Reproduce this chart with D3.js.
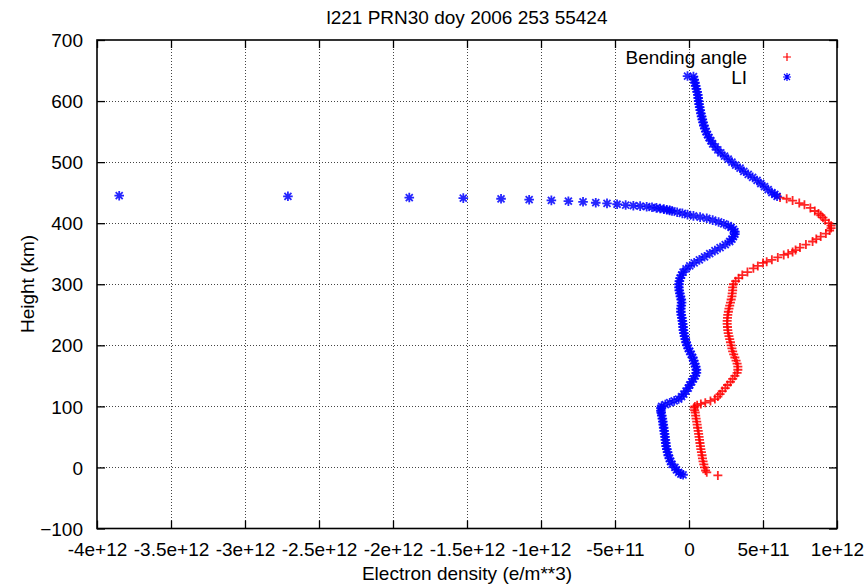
<!DOCTYPE html>
<html>
<head>
<meta charset="utf-8">
<script src="https://cdn.jsdelivr.net/npm/d3@7/dist/d3.min.js"></script>
<style>
  html, body { margin: 0; padding: 0; background: #fff; }
  svg text { font-family: "Liberation Sans", Arial, Helvetica, sans-serif; fill: #000; }
</style>
</head>
<body>
<svg id="chart" width="868" height="586"></svg>
<script>
// ---- data (density in units of 1e11 e/m^3, height in km) ----
const UNIT = 1e11;
const title = "l221 PRN30 doy 2006 253 55424";
const xLabel = "Electron density (e/m**3)";
const yLabel = "Height (km)";
const seriesNames = ["Bending angle", "LI"];
const xTickValues = [-4e12, -3.5e12, -3e12, -2.5e12, -2e12, -1.5e12, -1e12, -5e11, 0, 5e11, 1e12];
const xTickLabels = ["-4e+12", "-3.5e+12", "-3e+12", "-2.5e+12", "-2e+12", "-1.5e+12", "-1e+12", "-5e+11", "0", "5e+11", "1e+12"];
const yTickValues = [-100, 0, 100, 200, 300, 400, 500, 600, 700];

// Bending angle profile: [height, density/1e11]
const bendingProfile = [
 [442,6.15],[440,6.6],[437,7.0],[433,7.45],[430,7.8],[425,8.2],[420,8.5],[416,8.75],[413,8.9],[409,9.05],
 [405,9.2],[400,9.45],[396,9.6],[392,9.6],[388,9.5],[383,9.25],[378,8.9],[374,8.6],[370,8.35],[365,7.9],
 [360,7.5],[356,7.2],[353,7.0],[350,6.7],[348,6.4],[344,6.0],[340,5.6],[337,5.25],[335,5.0],[330,4.65],[326,4.35],
 [320,3.95],[315,3.6],[310,3.35],[305,3.15],[300,3.0],[295,2.95],[290,2.95],[285,2.92],[280,2.9],[275,2.85],
 [270,2.8],[265,2.75],[260,2.7],[255,2.66],[250,2.62],[245,2.6],[240,2.58],[235,2.58],[230,2.6],[225,2.62],
 [220,2.65],[215,2.7],[210,2.75],[205,2.8],[200,2.85],[195,2.9],[190,2.95],[185,3.02],[180,3.1],[175,3.18],
 [170,3.25],[165,3.3],[160,3.3],[155,3.25],[150,3.1],[145,2.95],[140,2.8],[135,2.6],[130,2.45],[125,2.25],
 [120,2.1],[116,1.95],[112,1.75],[109,1.45],[106,1.1],[104,0.8],[102,0.55],[100,0.4],[98,0.35],[94,0.38],
 [90,0.42],[85,0.45],[80,0.48],[75,0.52],[70,0.55],[65,0.58],[60,0.62],[55,0.65],[50,0.68],[45,0.71],
 [40,0.74],[35,0.77],[30,0.8],[25,0.84],[20,0.88],[15,0.91],[10,0.95],[5,1.0],[0,1.05],[-5,1.12],
 [-8,1.2],[-13,1.95]
];

// LI profile: [height, density/1e11]
const liProfile = [
 [641,-0.1],[640,0.3],[635,0.35],[630,0.4],[625,0.45],[620,0.5],[615,0.55],[610,0.6],[605,0.62],[600,0.65],
 [595,0.68],[590,0.72],[585,0.76],[580,0.8],[575,0.85],[570,0.9],[565,0.95],[560,1.0],[555,1.08],[550,1.15],
 [545,1.25],[540,1.35],[535,1.48],[530,1.6],[525,1.78],[520,1.95],[515,2.15],[510,2.4],[505,2.65],[500,2.9],
 [495,3.15],[490,3.45],[485,3.7],[480,4.0],[475,4.3],[470,4.6],[465,4.85],[460,5.1],[455,5.35],[450,5.6],
 [447,5.8],[444,5.95],
 [445,-38.5],[444,-27.1],[442,-18.9],[441,-15.25],[440,-12.7],[438.5,-10.8],[437.4,-9.3],[436,-8.15],
 [435,-7.16],[433.5,-6.3],[432.5,-5.54],[431,-4.86],[429.7,-4.28],[428.6,-3.76],[428,-3.3],[427,-2.86],
 [426,-2.5],[425,-2.2],[424,-1.95],[423,-1.7],[422,-1.5],[421,-1.3],[420,-1.15],[418,-0.8],[416,-0.45],
 [414,-0.1],[412,0.3],[410,0.75],[408,1.2],[405,1.6],[402,2.0],[399,2.35],[396,2.65],[393,2.85],[390,3.0],
 [386,3.1],[382,3.1],[378,3.0],[374,2.9],[370,2.75],[365,2.45],[360,2.1],[355,1.75],[350,1.4],[345,1.05],
 [340,0.7],[335,0.35],[330,0.05],[325,-0.2],[320,-0.4],[315,-0.5],[310,-0.6],[305,-0.65],[300,-0.68],
 [295,-0.68],[290,-0.66],[285,-0.62],[280,-0.58],[275,-0.52],[270,-0.5],[265,-0.52],[260,-0.55],[255,-0.55],
 [250,-0.52],[245,-0.48],[240,-0.45],[235,-0.42],[230,-0.4],[225,-0.38],[220,-0.35],[215,-0.3],[210,-0.25],
 [205,-0.2],[200,-0.12],[195,-0.05],[190,0.05],[185,0.15],[180,0.25],[175,0.32],[170,0.38],[165,0.45],
 [160,0.5],[155,0.5],[150,0.42],[145,0.3],[140,0.18],[135,0.05],[130,-0.05],[125,-0.2],[120,-0.35],
 [116,-0.5],[112,-0.7],[109,-1.0],[106,-1.3],[103,-1.6],[100,-1.85],[97,-1.9],[93,-1.9],[90,-1.88],
 [85,-1.84],[80,-1.8],[75,-1.77],[70,-1.74],[65,-1.71],[60,-1.68],[55,-1.65],[50,-1.62],[45,-1.6],
 [40,-1.57],[35,-1.55],[30,-1.5],[25,-1.45],[20,-1.4],[15,-1.32],[10,-1.25],[5,-1.15],[0,-0.95],
 [-4,-0.85],[-8,-0.7],[-11,-0.55],[-12,-0.4]
];

// ---- layout ----
const svg = d3.select("#chart");
const L = 97, R = 837, T = 40, B = 528.5;
const x = d3.scaleLinear().domain([-4e12, 1e12]).range([L, R]);
const y = d3.scaleLinear().domain([-100, 700]).range([B, T]);
const FS = 19;

// grid
const grid = svg.append("g").attr("stroke", "#444").attr("stroke-width", 1).attr("stroke-dasharray", "1,2");
xTickValues.slice(1, -1).forEach(v => {
  grid.append("line").attr("x1", Math.round(x(v)) + 0.5).attr("x2", Math.round(x(v)) + 0.5)
    .attr("y1", T).attr("y2", B);
});
yTickValues.slice(1, -1).forEach(v => {
  grid.append("line").attr("y1", Math.round(y(v)) + 0.5).attr("y2", Math.round(y(v)) + 0.5)
    .attr("x1", L).attr("x2", R);
});

// axes
const fmtX = d => xTickLabels[xTickValues.indexOf(d)];
const axB = d3.axisBottom(x).tickValues(xTickValues).tickFormat(fmtX).tickSizeInner(-8).tickSizeOuter(0).tickPadding(14);
const axT = d3.axisTop(x).tickValues(xTickValues).tickFormat("").tickSizeInner(-8).tickSizeOuter(0);
const axL = d3.axisLeft(y).tickValues(yTickValues).tickSizeInner(-8).tickSizeOuter(0).tickPadding(14);
const axR = d3.axisRight(y).tickValues(yTickValues).tickFormat("").tickSizeInner(-8).tickSizeOuter(0);

function styleAxis(g) {
  g.select(".domain").remove();
  g.selectAll(".tick line").attr("stroke", "#000").attr("stroke-width", 1.3);
  g.selectAll("text").attr("font-size", FS).attr("font-family", "Liberation Sans, Arial, sans-serif").attr("fill", "#000");
}
svg.append("g").attr("transform", `translate(0,${B})`).call(axB).call(styleAxis);
svg.append("g").attr("transform", `translate(0,${T})`).call(axT).call(styleAxis);
svg.append("g").attr("transform", `translate(${L},0)`).call(axL).call(styleAxis)
  .selectAll("text").attr("dy", "0.35em");
svg.append("g").attr("transform", `translate(${R},0)`).call(axR).call(styleAxis);

// border
svg.append("rect").attr("x", L).attr("y", T).attr("width", R - L).attr("height", B - T)
  .attr("fill", "none").attr("stroke", "#000").attr("stroke-width", 1.6);

// markers
const plusPath = "M-4.5,0L4.5,0M0,-4.5L0,4.5";
const starPath = "M-4.8,0L4.8,0M0,-4.8L0,4.8M-3.5,-3.5L3.5,3.5M-3.5,3.5L3.5,-3.5";
const legPlus = "M-4,0L4,0M0,-4L0,4";
const legStar = "M-4,0L4,0M0,-4L0,4M-3,-3L3,3M-3,3L3,-3";

const plotG = svg.append("g");
plotG.selectAll("path.ba").data(bendingProfile).join("path").attr("class", "ba")
  .attr("d", plusPath)
  .attr("transform", d => `translate(${x(d[1] * UNIT)},${y(d[0])})`)
  .attr("stroke", "#ff0000").attr("stroke-width", 1.8).attr("fill", "none").attr("stroke-opacity", 0.85);

plotG.selectAll("path.li").data(liProfile).join("path").attr("class", "li")
  .attr("d", starPath)
  .attr("transform", d => `translate(${x(d[1] * UNIT)},${y(d[0])})`)
  .attr("stroke", "#0000ff").attr("stroke-width", 1.8).attr("fill", "none").attr("stroke-opacity", 0.85);

// legend
const legX = 747, legMX = 787;
const legY = [57, 77];
const legPaths = [legPlus, legStar];
const legCols = ["#ff0000", "#0000ff"];
seriesNames.forEach((n, i) => {
  svg.append("text").attr("x", legX).attr("y", legY[i]).attr("dy", "0.35em")
    .attr("text-anchor", "end").attr("font-size", FS).text(n);
  svg.append("path").attr("d", legPaths[i]).attr("transform", `translate(${legMX},${legY[i]})`)
    .attr("stroke", legCols[i]).attr("stroke-width", 1.2).attr("fill", "none");
});

// titles
svg.append("text").attr("x", 467).attr("y", 17).attr("dy", "0.35em").attr("text-anchor", "middle")
  .attr("font-size", FS).text(title);
svg.append("text").attr("x", 467).attr("y", 573).attr("dy", "0.35em").attr("text-anchor", "middle")
  .attr("font-size", FS).text(xLabel);
svg.append("text").attr("transform", "translate(27,284) rotate(-90)").attr("dy", "0.35em")
  .attr("text-anchor", "middle").attr("font-size", FS).text(yLabel);
</script>
</body>
</html>
